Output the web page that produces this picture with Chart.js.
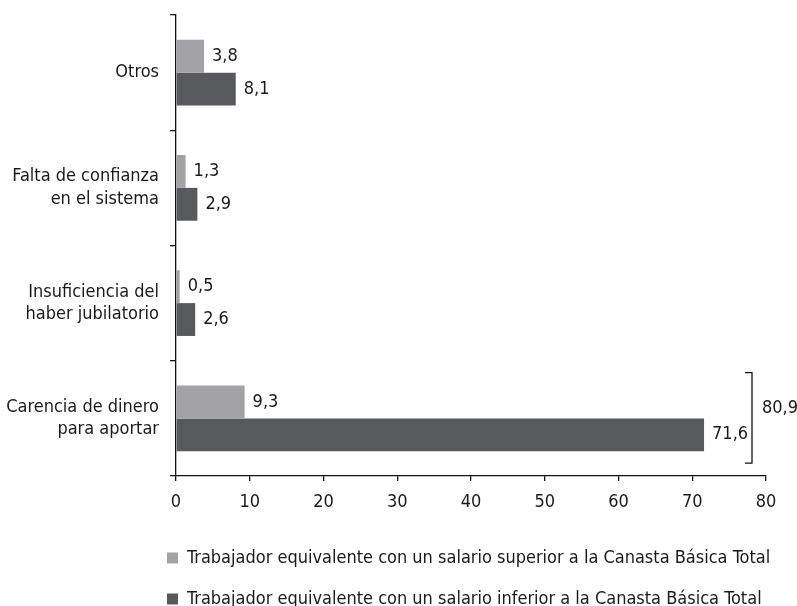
<!DOCTYPE html>
<html>
<head>
<meta charset="utf-8">
<script src="https://cdn.jsdelivr.net/npm/chart.js@4/dist/chart.umd.min.js"></script>
<style>
  html, body { margin: 0; padding: 0; background: #ffffff; }
  #wrap { width: 797px; height: 606px; position: relative; }
</style>
</head>
<body>
<div id="wrap"><canvas id="chart"></canvas></div>
<script>
// Motivos por los que no se aporta al sistema previsional (%)
const categories = [
  ['Otros'],
  ['Falta de confianza', 'en el sistema'],
  ['Insuficiencia del', 'haber jubilatorio'],
  ['Carencia de dinero', 'para aportar']
];
const seriesNames = [
  'Trabajador equivalente con un salario superior a la Canasta Básica Total',
  'Trabajador equivalente con un salario inferior a la Canasta Básica Total'
];
const superiorValues = [3.8, 1.3, 0.5, 9.3];
const inferiorValues = [8.1, 2.9, 2.6, 71.6];
const xTicks = [0, 10, 20, 30, 40, 50, 60, 70, 80];
const bracketIndex = 3; // category whose two bars are summed in the bracket

const FONT = "'DejaVu Sans Condensed', 'Roboto Condensed', sans-serif";
const FS = 18;
const LEGEND_PAD = 23;
const LIGHT = '#a2a2a5';
const DARK = '#58595b';
const TEXT = '#1a1a1a';

const fmt = v => v.toFixed(1).replace('.', ',');

// Value labels at the end of each bar
const valueLabels = {
  id: 'valueLabels',
  afterDatasetsDraw(chart) {
    const ctx = chart.ctx;
    ctx.save();
    ctx.font = FS + 'px ' + FONT;
    ctx.fillStyle = TEXT;
    ctx.textAlign = 'left';
    ctx.textBaseline = 'middle';
    chart.data.datasets.forEach((ds, di) => {
      const meta = chart.getDatasetMeta(di);
      meta.data.forEach((bar, i) => {
        ctx.fillText(fmt(ds.data[i]), bar.x + 8, bar.y);
      });
    });
    ctx.restore();
  }
};

// Bracket grouping both bars of one category, labelled with their sum
const totalBracket = {
  id: 'totalBracket',
  afterDatasetsDraw(chart) {
    const ctx = chart.ctx;
    const top = chart.getDatasetMeta(0).data[bracketIndex];
    const bot = chart.getDatasetMeta(1).data[bracketIndex];
    const y0 = top.y - top.height / 2 - 13;
    const y1 = bot.y + bot.height / 2 + 12;
    const x = chart.chartArea.right - 14;
    ctx.save();
    ctx.strokeStyle = '#111';
    ctx.lineWidth = 1.3;
    ctx.beginPath();
    ctx.moveTo(x - 7, y0);
    ctx.lineTo(x, y0);
    ctx.lineTo(x, y1);
    ctx.lineTo(x - 7, y1);
    ctx.stroke();
    const total = superiorValues[bracketIndex] + inferiorValues[bracketIndex];
    ctx.font = FS + 'px ' + FONT;
    ctx.fillStyle = TEXT;
    ctx.textAlign = 'left';
    ctx.textBaseline = 'middle';
    ctx.fillText(fmt(total), x + 10, (y0 + y1) / 2 - 10);
    ctx.restore();
  }
};

// Start the legend rows just left of the value axis
const legendIndent = {
  id: 'legendIndent',
  afterLayout(chart) {
    if (chart.legend) {
      chart.legend.left = chart.chartArea.left - LEGEND_PAD - 9;
    }
  }
};

new Chart(document.getElementById('chart'), {
  type: 'bar',
  data: {
    labels: categories,
    datasets: [
      { label: seriesNames[0], data: superiorValues, backgroundColor: LIGHT,
        categoryPercentage: 0.57, barPercentage: 1.0 },
      { label: seriesNames[1], data: inferiorValues, backgroundColor: DARK,
        categoryPercentage: 0.57, barPercentage: 1.0 }
    ]
  },
  options: {
    indexAxis: 'y',
    responsive: true,
    maintainAspectRatio: false,
    animation: false,
    layout: { padding: { top: 15, right: 0, left: 0, bottom: -12 } },
    plugins: {
      legend: {
        position: 'bottom',
        align: 'start',
        labels: {
          boxWidth: 11,
          boxHeight: 11,
          padding: LEGEND_PAD,
          color: TEXT,
          font: { family: FONT, size: FS }
        }
      },
      tooltip: { enabled: false }
    },
    scales: {
      x: {
        type: 'linear',
        min: 0,
        max: 80,
        afterBuildTicks(scale) { scale.ticks = xTicks.map(v => ({ value: v })); },
        afterFit(scale) { scale.height = 50; },
        grid: { drawOnChartArea: false, drawTicks: true, tickLength: 5, color: '#111', lineWidth: 1.3 },
        border: { display: true, color: '#111', width: 1.3 },
        ticks: { color: TEXT, padding: 11, font: { family: FONT, size: FS }, callback: v => String(v) }
      },
      y: {
        type: 'category',
        afterFit(scale) {
          scale.width = 176;
          scale.paddingTop = 0;
          scale.paddingBottom = 0;
        },
        grid: { offset: true, drawOnChartArea: false, drawTicks: true, tickLength: 6, color: '#111', lineWidth: 1.3 },
        border: { display: true, color: '#111', width: 1.3 },
        ticks: { color: TEXT, padding: 11, font: { family: FONT, size: FS, lineHeight: 1.25 } }
      },
      // empty right-hand margin that keeps room for the bracket label
      yMargin: {
        type: 'category',
        position: 'right',
        afterFit(scale) {
          scale.width = 31;
          scale.paddingTop = 0;
          scale.paddingBottom = 0;
        },
        grid: { display: false },
        border: { display: false },
        ticks: { display: false }
      }
    }
  },
  plugins: [valueLabels, totalBracket, legendIndent]
});
</script>
</body>
</html>
